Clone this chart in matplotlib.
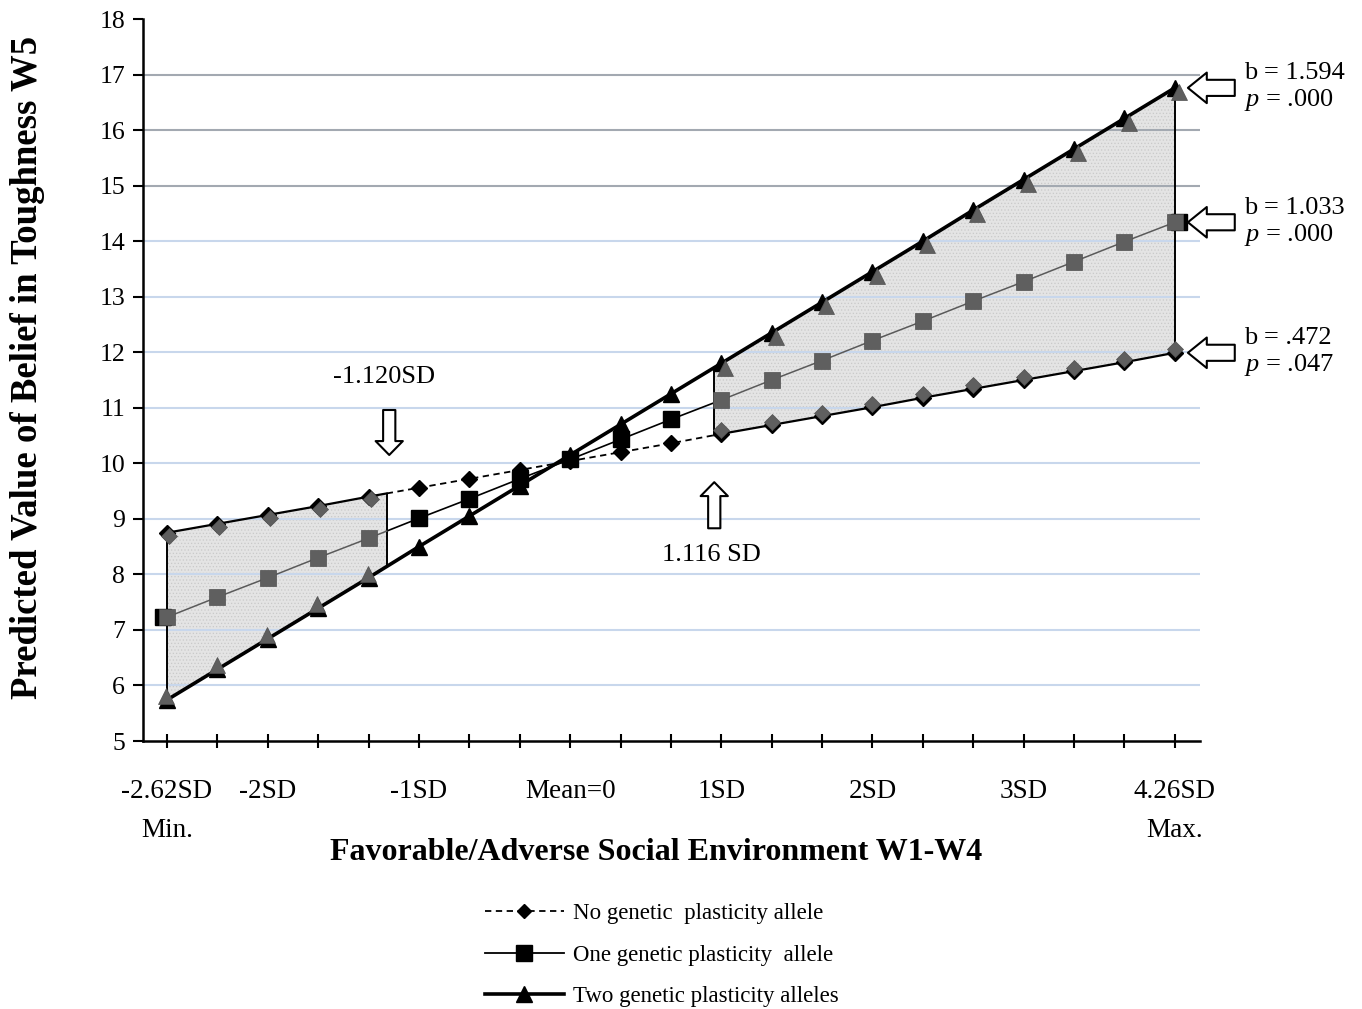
import numpy as np
import matplotlib.pyplot as plt
from matplotlib.lines import Line2D
from matplotlib.transforms import offset_copy

plt.rcParams['font.family'] = 'Liberation Serif'
plt.rcParams['mathtext.fontset'] = 'custom'
plt.rcParams['mathtext.rm'] = 'Liberation Serif'
plt.rcParams['mathtext.it'] = 'Liberation Serif:italic'
plt.rcParams['hatch.linewidth'] = 0.5

# x categories (21 points from min to max of the environment score)
tick_labels = ["-2.62SD\nMin.", "", "-2SD", "", "", "-1SD", "", "", "Mean=0", "", "",
               "1SD", "", "", "2SD", "", "", "3SD", "", "", "4.26SD\nMax."]
sd_min, sd_max = -2.62, 4.26
sig_low_sd, sig_high_sd = -1.120, 1.116

no_allele = np.array([8.75, 8.91, 9.07, 9.23, 9.40, 9.56, 9.72, 9.88, 10.04, 10.20, 10.36,
                      10.53, 10.69, 10.85, 11.01, 11.18, 11.34, 11.50, 11.66, 11.82, 11.99])
one_allele = np.array([7.23, 7.59, 7.94, 8.30, 8.65, 9.01, 9.36, 9.72, 10.07, 10.43, 10.79,
                       11.14, 11.50, 11.85, 12.21, 12.56, 12.92, 13.27, 13.63, 13.99, 14.34])
two_alleles = np.array([5.74, 6.29, 6.84, 7.39, 7.94, 8.50, 9.05, 9.60, 10.15, 10.70, 11.25,
                        11.80, 12.35, 12.90, 13.45, 14.00, 14.56, 15.11, 15.66, 16.21, 16.76])

slopes = ["b = .472", "b = 1.033", "b = 1.594"]
pvals = [".047", ".000", ".000"]
legend_labels = ["No genetic  plasticity allele", "One genetic plasticity  allele",
                 "Two genetic plasticity alleles"]

n = len(tick_labels)
x = np.arange(n)
xl = (sig_low_sd - sd_min) / (sd_max - sd_min) * (n - 1)
xr = (sig_high_sd - sd_min) / (sd_max - sd_min) * (n - 1)

left_x = np.r_[x[x < xl], xl]
right_x = np.r_[xr, x[x > xr]]
mid_x = np.r_[xl, x[(x > xl) & (x < xr)], xr]


def at(series, xs):
    return np.interp(xs, x, series)


fig = plt.figure(figsize=(13.62, 10.09), dpi=100)
ax = fig.add_axes([143 / 1362, 1 - 741 / 1009, (1200 - 143) / 1362, (741 - 19) / 1009])
ax.set_xlim(-0.476, 20.5)
ax.set_ylim(5, 18)

# horizontal grid
for v in range(6, 18):
    ax.axhline(v, color='#a3a9b1' if v >= 15 else '#c8d7ec', lw=1.5, zorder=1.5)

# regions of significance
for xs in (left_x, right_x):
    ax.fill_between(xs, at(no_allele, xs), at(two_alleles, xs), facecolor='#e4e4e4',
                    edgecolor='#c9c9c9', hatch='.....', lw=0, zorder=1)
bx = np.array([0, xl, xr, n - 1])
ax.vlines(bx, np.minimum(at(no_allele, bx), at(two_alleles, bx)),
          np.maximum(at(no_allele, bx), at(two_alleles, bx)), color='k', lw=1.4, zorder=3)

# lines
ax.plot(x, two_alleles, color='k', lw=2.6, zorder=4)
ax.plot(mid_x, at(one_allele, mid_x), color='k', lw=1.2, zorder=4)
ax.plot(mid_x, at(no_allele, mid_x), color='k', lw=1.3, ls=(0, (3.5, 2.5)), zorder=4)
for xs in (left_x, right_x):
    ax.plot(xs, at(one_allele, xs), color='#5a5a5a', lw=1.1, zorder=4)
    ax.plot(xs, at(no_allele, xs), color='k', lw=1.6, zorder=4)

# markers
shaded = (x < xl) | (x > xr)
lmask = x < xl
rmask = x > xr
gray = dict(ls='none', mfc='#5f5f5f', mec='#505050', mew=0.5, zorder=6)
black = dict(ls='none', color='k', zorder=5)


def shift(dx, dy):
    return offset_copy(ax.transData, fig=fig, x=dx, y=dy, units='points')


ax.plot(x, no_allele, marker='D', ms=8, **black)
ax.plot(x[lmask], no_allele[lmask], marker='D', ms=8, transform=shift(1.5, -2), **gray)
ax.plot(x[rmask], no_allele[rmask], marker='D', ms=8, transform=shift(0, 2.5), **gray)

ax.plot(x, two_alleles, marker='^', ms=12, **black)
ax.plot(x[lmask], two_alleles[lmask], marker='^', ms=12, transform=shift(-0.5, 3), **gray)
ax.plot(x[rmask], two_alleles[rmask], marker='^', ms=12, transform=shift(3, -3), **gray)

ax.plot(x[~shaded], one_allele[~shaded], marker='s', ms=11, **black)
ax.plot(x[:1], one_allele[:1], marker='s', ms=11, transform=shift(-3, 0), **black)
ax.plot(x[-1:], one_allele[-1:], marker='s', ms=11, transform=shift(3, 0), **black)
ax.plot(x[shaded], one_allele[shaded], marker='s', ms=11, **gray)

# axes styling
for s in ('top', 'right'):
    ax.spines[s].set_visible(False)
for s in ('left', 'bottom'):
    ax.spines[s].set_linewidth(1.8)
ax.set_xticks(x)
ax.set_xticklabels(tick_labels, fontsize=19.5)
ax.set_yticks(range(5, 19))
ax.tick_params(axis='y', direction='out', length=7, width=1.5, pad=6, labelsize=18.5)
ax.tick_params(axis='x', direction='inout', length=10, width=1.5, pad=22)
for lbl in ax.get_xticklabels():
    lbl.set_linespacing(1.75)

ax.set_ylabel("Predicted Value of Belief in Toughness W5", fontsize=26.5, fontweight='bold')
ax.yaxis.set_label_coords(-0.0925, 0.518)
ax.set_xlabel("Favorable/Adverse Social Environment W1-W4", fontsize=23, fontweight='bold')
ax.xaxis.set_label_coords(0.485, -0.134)

# slope annotations on the right
big = dict(arrowstyle="simple,head_length=0.68,head_width=1.1,tail_width=0.58",
           fc='white', ec='black', lw=1.5, mutation_scale=20, shrinkA=0, shrinkB=0)
for series, b, p in zip((no_allele, one_allele, two_alleles), slopes, pvals):
    v = series[-1]
    ax.annotate("", xy=(n - 1 + 0.26, v), xytext=(n - 1 + 1.19, v),
                arrowprops=big, annotation_clip=False)
    ax.text(n - 1 + 1.37, v, f"{b}\n$p$ = {p}", fontsize=19, va='center', ha='left',
            linespacing=1.15, clip_on=False)

# region-of-significance boundaries
small = dict(arrowstyle="simple,head_length=0.5,head_width=0.98,tail_width=0.44",
             fc='white', ec='black', lw=1.5, mutation_scale=20, shrinkA=0, shrinkB=0)
ax.annotate("", xy=(xl + 0.05, 10.15), xytext=(xl + 0.05, 10.96), arrowprops=small)
ax.text(xl - 0.05, 11.55, f"{sig_low_sd:.3f}SD", fontsize=19, ha='center', va='center')
ax.annotate("", xy=(xr, 9.66), xytext=(xr, 8.83), arrowprops=small)
ax.text(xr - 0.05, 8.35, f"{sig_high_sd:.3f} SD", fontsize=19, ha='center', va='center')

# legend
handles = [
    Line2D([], [], color='k', lw=1.3, ls=(0, (3.5, 2.5)), marker='D', ms=7.5),
    Line2D([], [], color='k', lw=1.3, marker='s', ms=11),
    Line2D([], [], color='k', lw=2.6, marker='^', ms=12),
]
fig.legend(handles, legend_labels, loc='center', bbox_to_anchor=(0.486, 0.0535),
           frameon=False, fontsize=16.5, handlelength=3.45, handletextpad=0.4,
           labelspacing=0.9, borderpad=0)

fig.savefig("out.png", dpi=100)
